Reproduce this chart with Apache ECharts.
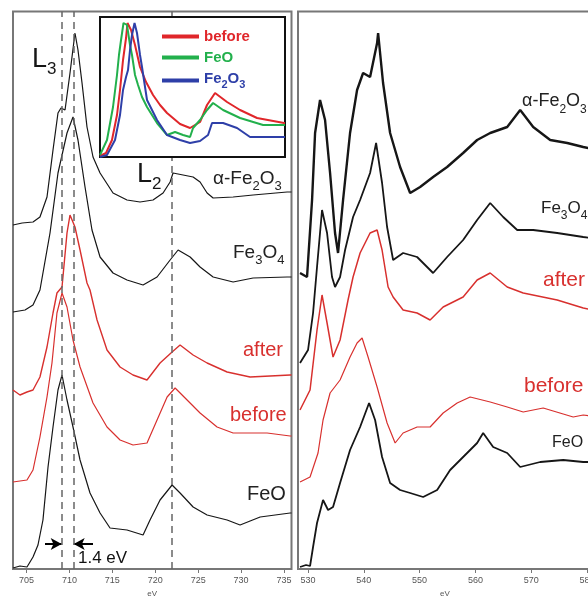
<!DOCTYPE html>
<html><head><meta charset="utf-8">
<script src="https://cdn.jsdelivr.net/npm/echarts@6/dist/echarts.min.js"></script>
<style>html,body{margin:0;padding:0;background:#fff}#c{width:588px;height:598px}</style>
</head><body><div id="c"></div>
<script>
// ---------- data (energies in eV, intensities in arbitrary units) ----------
const feTicks = [705, 710, 715, 720, 725, 730, 735];
const oTicks = [530, 540, 550, 560, 570, 580];
const dashedLinesEV = [709.1, 710.5, 721.9];
const shiftArrows = [[707.16, 709.1], [712.75, 710.5]]; // [from, to] eV
const shiftArrowLevel = 2.5;

// Fe L2,3 edge
const feL_aFe2O3 = [[703.43,34.4],[704.5,34.6],[705.76,34.7],[706.57,35.2],[707.39,37.2],[708.09,41.9],[708.67,45.6],[709.02,46.1],[709.49,45.9],[710.07,49.6],[710.65,53.6],[711.0,51.9],[711.47,48.6],[712.05,44.2],[712.75,41.2],[713.57,39.6],[715.08,37.6],[716.71,36.9],[718.23,36.7],[719.74,36.9],[720.91,37.6],[721.73,38.7],[722.07,39.6],[723.24,39.4],[724.41,39.2],[725.22,38.7],[726.04,37.6],[726.74,37.1],[729.07,37.2],[731.4,37.4],[735.36,37.7],[735.87,37.7]];
const feL_Fe3O4 = [[703.43,25.7],[704.83,25.9],[705.76,26.4],[706.57,27.9],[707.74,33.6],[708.67,39.6],[709.72,43.6],[710.42,45.2],[711.0,42.9],[711.82,38.2],[712.63,33.9],[713.57,31.2],[715.08,29.6],[716.71,28.9],[718.58,28.4],[720.21,29.2],[721.73,30.9],[722.66,31.9],[724.06,31.2],[725.22,30.2],[726.74,29.2],[729.07,28.7],[731.4,29.1],[735.36,29.2],[735.87,29.2]];
const feL_after = [[703.43,17.9],[704.24,17.4],[705.06,17.7],[705.76,17.9],[706.57,19.2],[707.39,22.2],[708.09,25.6],[708.55,27.6],[709.14,28.2],[709.72,33.6],[710.07,35.4],[710.65,34.2],[711.24,31.9],[712.05,28.6],[712.4,27.9],[713.22,24.9],[714.38,21.9],[715.9,20.2],[717.41,19.4],[719.04,18.9],[720.56,20.6],[721.96,21.7],[722.89,22.4],[724.41,21.4],[726.04,20.6],[728.37,19.7],[731.05,19.2],[735.71,19.4],[735.87,19.4]];
const feL_before = [[703.43,8.7],[705.06,8.9],[705.76,9.9],[706.57,13.2],[707.39,17.2],[707.97,20.6],[708.55,25.6],[709.14,27.6],[709.72,26.2],[710.42,22.9],[711.24,20.2],[712.75,16.6],[714.38,14.2],[715.9,12.9],[717.41,12.4],[719.04,12.6],[720.21,14.9],[721.38,17.2],[722.31,18.1],[723.71,16.9],[725.22,15.6],[727.2,14.2],[729.07,13.6],[733.03,13.6],[735.71,13.3],[735.87,13.3]];
const feL_FeO = [[703.43,0.1],[704.24,0.3],[705.06,0.2],[705.76,1.2],[706.34,2.4],[706.92,4.9],[707.51,10.2],[708.09,14.2],[708.67,17.9],[709.14,19.4],[709.72,16.9],[710.42,14.2],[711.24,10.9],[712.4,7.6],[713.57,5.6],[714.73,4.1],[716.71,3.9],[718.58,3.4],[719.39,4.9],[720.56,6.9],[721.96,8.4],[722.89,7.6],[724.41,6.2],[726.04,5.4],[728.37,4.9],[729.88,4.4],[732.22,5.2],[735.71,5.6],[735.87,5.6]];

// O K edge
const oK_aFe2O3 = [[528.56,29.6],[529.82,29.2],[530.72,36.9],[531.26,43.6],[532.15,46.9],[533.05,44.9],[533.95,39.6],[534.84,33.6],[535.38,31.6],[536.28,36.9],[537.53,43.6],[538.79,47.9],[539.87,49.6],[541.12,49.2],[542.38,52.6],[542.56,53.6],[543.45,48.6],[544.71,43.6],[546.5,40.2],[548.3,37.6],[550.09,38.2],[552.42,39.2],[554.93,40.2],[557.8,41.6],[560.31,42.9],[562.65,43.6],[565.7,44.2],[568.03,45.9],[570.36,44.2],[573.41,42.9],[576.46,42.6],[579.33,42.2],[580.9,42.0]];
const oK_Fe3O4 = [[528.56,20.6],[530.0,21.9],[530.9,25.6],[531.61,30.2],[532.51,35.9],[533.41,33.6],[534.3,29.2],[534.84,28.2],[535.74,29.2],[536.64,31.9],[538.07,35.2],[539.33,36.9],[541.12,39.6],[542.2,42.6],[543.27,38.6],[544.17,34.2],[545.25,30.9],[547.04,31.6],[549.55,31.2],[552.42,29.6],[554.93,31.2],[557.8,32.9],[560.31,34.9],[562.65,36.6],[564.98,35.2],[567.49,33.9],[570.36,33.9],[574.66,33.6],[579.33,33.2],[580.9,33.1]];
const oK_after = [[528.56,15.9],[530.36,17.9],[531.61,23.9],[532.51,27.4],[533.41,24.6],[534.48,21.2],[535.74,22.9],[537.17,26.9],[538.07,29.2],[539.33,31.6],[541.12,33.6],[542.38,33.9],[543.27,31.9],[544.35,28.2],[545.25,27.2],[547.04,25.9],[549.55,25.6],[551.88,24.9],[554.22,26.2],[557.8,27.2],[560.31,28.9],[562.65,29.6],[565.7,28.2],[568.57,27.6],[574.66,26.9],[579.33,26.1],[580.9,25.9]];
const oK_before = [[528.56,8.7],[530.36,9.2],[531.79,11.6],[532.69,14.9],[533.95,17.6],[535.74,18.9],[537.53,21.2],[538.79,22.6],[539.69,23.1],[540.76,21.2],[542.38,18.2],[544.17,14.6],[545.61,12.6],[547.04,13.6],[549.55,14.2],[551.88,14.2],[554.22,15.6],[556.73,16.6],[559.06,17.2],[562.65,16.7],[565.7,16.2],[568.57,15.7],[572.15,16.1],[577.53,15.2],[579.33,15.4],[580.9,15.3]];
const oK_FeO = [[528.56,0.2],[529.64,0.4],[530.36,0.3],[530.9,2.2],[531.61,4.6],[532.69,6.9],[533.59,5.9],[534.48,6.2],[535.74,8.6],[537.53,11.9],[539.33,14.2],[540.94,16.6],[542.02,14.9],[543.27,11.2],[544.71,8.6],[546.5,7.9],[548.3,7.6],[550.63,7.2],[553.14,7.9],[555.47,9.9],[557.8,11.2],[560.31,12.6],[561.39,13.6],[563.18,12.2],[565.7,11.6],[568.03,10.2],[571.61,10.7],[575.74,10.9],[579.33,10.7],[580.9,10.7]];

// Inset (normalised Fe L2,3)
const inset_before = [[705.0,1],[705.88,4],[706.75,17],[707.48,42],[707.92,67],[708.36,97],[708.8,119],[709.01,134],[709.53,127],[710.11,112],[710.84,90],[711.72,75],[712.74,62],[713.76,52],[714.78,44],[716.68,33],[718.14,29],[719.6,35],[720.62,52],[721.79,64],[723.54,55],[725.44,47],[727.92,39],[731.86,34],[732,34]];
const inset_FeO = [[705.0,2],[705.29,4],[706.02,17],[706.9,50],[707.48,82],[707.77,102],[708.07,117],[708.43,134],[708.94,132],[709.38,112],[709.67,102],[710.11,82],[710.55,72],[711.13,60],[711.86,50],[713.32,34],[714.78,22],[715.95,25],[717.12,22],[718.14,20],[718.58,29],[719.6,37],[720.62,47],[721.5,54],[722.96,47],[725.44,39],[728.8,32],[731.86,32],[732,32]];
const inset_Fe2O3 = [[705.0,0],[706.02,2],[707.19,17],[707.92,42],[708.36,67],[708.8,80],[709.09,87],[709.38,107],[709.67,122],[710.04,134],[710.4,124],[710.84,102],[711.13,90],[711.86,57],[712.59,47],[713.32,37],[714.78,22],[716.68,17],[718.14,14],[719.6,16],[720.77,22],[721.35,34],[722.96,34],[725.0,29],[726.9,20],[729.09,20],[731.86,20],[732,20]];

// ---------- styling ----------
const RED = '#d8302e', BLACK = '#161616';
const IN_RED = '#e0262a', IN_GREEN = '#22b04c', IN_BLUE = '#2e3fa8';
const FONT = '"Liberation Sans", Arial, sans-serif';

function line(name, data, color, idx, width, extra) {
  return Object.assign({
    type: 'line', name, data, xAxisIndex: idx, yAxisIndex: idx,
    symbol: 'none', showSymbol: false, silent: true, animation: false,
    lineStyle: { color, width }, itemStyle: { color }
  }, extra || {});
}

function txt(x, y, text, size, color, rich) {
  const st = { text, fill: color, fontSize: size, fontFamily: FONT, align: 'left', verticalAlign: 'middle' };
  if (rich) st.rich = rich;
  return { type: 'text', x, y, z: 50, silent: true, style: st };
}
function subRich(main, sub, color) {
  return {
    n: { fontSize: main, fontFamily: FONT, fill: color, color: color, lineHeight: main + 5, verticalAlign: 'top' },
    s: { fontSize: sub, fontFamily: FONT, fill: color, color: color, lineHeight: sub, verticalAlign: 'bottom' }
  };
}

function xAx(grid, min, max, ticks) {
  return {
    type: 'value', gridIndex: grid, min, max,
    axisLine: { show: false }, splitLine: { show: false },
    axisTick: { show: true, length: 4, customValues: ticks, lineStyle: { color: '#777', width: 1 } },
    axisLabel: { customValues: ticks, fontSize: 9, color: '#555', margin: 7, fontFamily: FONT },
    name: 'eV', nameLocation: 'middle', nameGap: 19,
    nameTextStyle: { fontSize: 8, color: '#555', fontFamily: FONT }
  };
}

const option = {
  animation: false,
  backgroundColor: '#fff',
  grid: [
    { left: 13, top: 11.5, width: 278.5, height: 557.5, show: true, backgroundColor: '#fff', borderColor: '#777', borderWidth: 2, outerBoundsMode: 'none', containLabel: false },
    { left: 298, top: 11.5, width: 294, height: 557.5, show: true, backgroundColor: '#fff', borderColor: '#777', borderWidth: 2, outerBoundsMode: 'none', containLabel: false },
    { left: 100, top: 17, width: 185, height: 140, show: true, backgroundColor: '#fff', borderColor: '#111', borderWidth: 2, z: 10, outerBoundsMode: 'none', containLabel: false }
  ],
  xAxis: [
    xAx(0, 703.43, 735.87, feTicks),
    xAx(1, 528.2, 580.9, oTicks),
    { type: 'value', gridIndex: 2, min: 705, max: 732, show: false }
  ],
  yAxis: [
    { type: 'value', gridIndex: 0, min: 0, max: 55.75, show: false },
    { type: 'value', gridIndex: 1, min: 0, max: 55.75, show: false },
    { type: 'value', gridIndex: 2, min: 0, max: 140, show: false }
  ],
  legend: {
    orient: 'vertical', left: 157, top: 24, itemWidth: 37, itemHeight: 4, itemGap: 6,
    icon: 'rect', z: 20, selectedMode: false,
    textStyle: { fontSize: 15, fontWeight: 'bold', fontFamily: FONT },
    formatter: n => n === 'Fe2O3' ? '{a|Fe}{b|2}{a|O}{b|3}' : n,
    data: [
      { name: 'before', textStyle: { color: IN_RED } },
      { name: 'FeO', textStyle: { color: IN_GREEN } },
      { name: 'Fe2O3', textStyle: { color: IN_BLUE, rich: {
        a: { fontSize: 15, fontWeight: 'bold', color: IN_BLUE, fontFamily: FONT, lineHeight: 19, verticalAlign: 'top' },
        b: { fontSize: 11, fontWeight: 'bold', color: IN_BLUE, fontFamily: FONT, lineHeight: 11, verticalAlign: 'bottom' } } } }
    ]
  },
  series: [
    line('α-Fe2O3 (Fe L)', feL_aFe2O3, BLACK, 0, 1.2),
    line('Fe3O4 (Fe L)', feL_Fe3O4, BLACK, 0, 1.2),
    line('after (Fe L)', feL_after, RED, 0, 1.4),
    line('before (Fe L)', feL_before, RED, 0, 1.2, {
      markLine: {
        silent: true, animation: false, symbol: ['none', 'arrow'], symbolSize: [9, 11],
        label: { show: false },
        lineStyle: { type: 'solid', color: '#000', width: 2 },
        data: shiftArrows.map(a => [{ coord: [a[0], shiftArrowLevel] }, { coord: [a[1], shiftArrowLevel] }])
      }
    }),
    line('FeO (Fe L)', feL_FeO, BLACK, 0, 1.2, {
      markLine: {
        silent: true, animation: false, symbol: 'none', label: { show: false },
        lineStyle: { type: [7, 5], color: '#666', width: 1.5 },
        data: dashedLinesEV.map(v => ({ xAxis: v }))
      }
    }),
    line('α-Fe2O3 (O K)', oK_aFe2O3, BLACK, 1, 2.4),
    line('Fe3O4 (O K)', oK_Fe3O4, BLACK, 1, 1.8),
    line('after (O K)', oK_after, RED, 1, 1.5),
    line('before (O K)', oK_before, RED, 1, 1.2),
    line('FeO (O K)', oK_FeO, BLACK, 1, 1.8),
    line('before', inset_before, IN_RED, 2, 2, { z: 12 }),
    line('FeO', inset_FeO, IN_GREEN, 2, 2, { z: 12 }),
    line('Fe2O3', inset_Fe2O3, IN_BLUE, 2, 2, { z: 12 })
  ],
  graphic: [
    txt(32, 62, '{n|L}{s|3}', 27, BLACK, subRich(27, 17, BLACK)),
    txt(137, 177, '{n|L}{s|2}', 27, BLACK, subRich(27, 17, BLACK)),
    txt(213, 181, '{n|α-Fe}{s|2}{n|O}{s|3}', 19, '#222', subRich(19, 13, '#222')),
    txt(233, 255, '{n|Fe}{s|3}{n|O}{s|4}', 19, '#222', subRich(19, 13, '#222')),
    txt(243, 350, 'after', 20, RED),
    txt(230, 415, 'before', 20, RED),
    txt(247, 494, 'FeO', 20, '#222'),
    txt(78, 558, '1.4 eV', 17, '#111'),
    txt(522, 104, '{n|α-Fe}{s|2}{n|O}{s|3}', 18, '#222', subRich(18, 12, '#222')),
    txt(541, 211, '{n|Fe}{s|3}{n|O}{s|4}', 17, '#222', subRich(17, 12, '#222')),
    txt(543, 280, 'after', 21, RED),
    txt(524, 386, 'before', 21, RED),
    txt(552, 443, 'FeO', 16, '#222')
  ]
};

const chart = echarts.init(document.getElementById('c'), null, { renderer: 'canvas' });
chart.setOption(option);
</script></body></html>
